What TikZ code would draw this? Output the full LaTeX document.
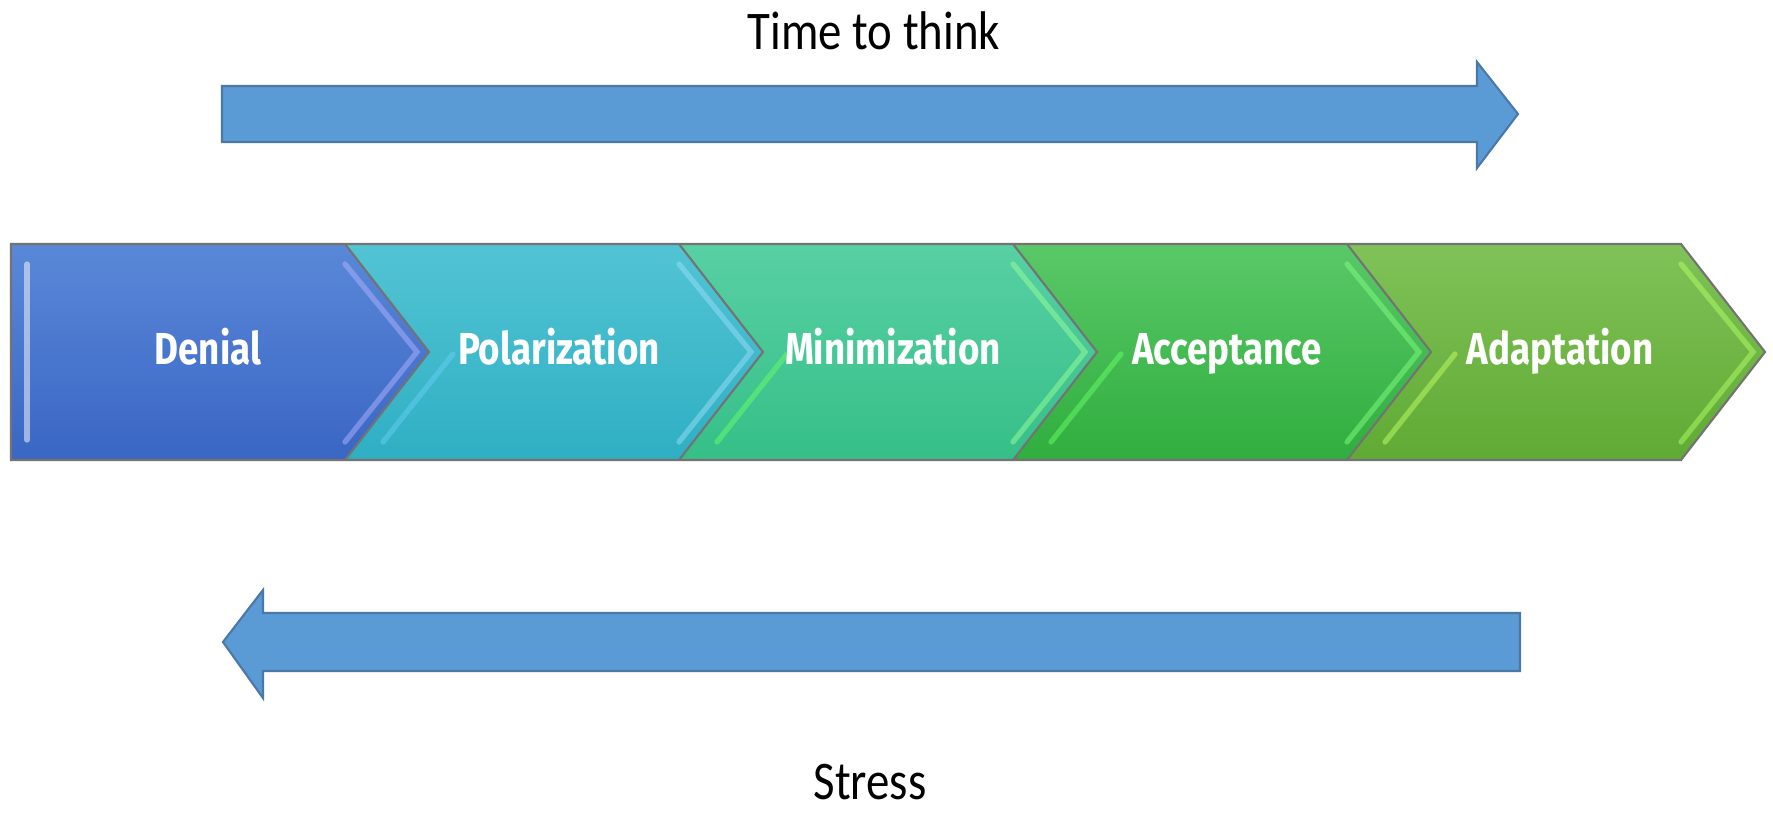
\documentclass[tikz,border=0pt]{standalone}
\usepackage{fontspec}
\newfontfamily\stagefont[FakeStretch=0.82]{Fira Sans}
\newfontfamily\notefont[FakeStretch=0.86]{Carlito}
\definecolor{arrowblue}{HTML}{5B9BD5}
\definecolor{arrowedge}{HTML}{4A78A8}
\definecolor{denialtop}{HTML}{5A88D8}
\definecolor{denialbot}{HTML}{3A66C4}
\definecolor{polartop}{HTML}{52C4D4}
\definecolor{polarbot}{HTML}{2FAFC3}
\definecolor{minitop}{HTML}{58D0A4}
\definecolor{minibot}{HTML}{36BF88}
\definecolor{acctop}{HTML}{5AC868}
\definecolor{accbot}{HTML}{30AE3E}
\definecolor{adapttop}{HTML}{80C258}
\definecolor{adaptbot}{HTML}{60AA34}
\begin{document}
\begin{tikzpicture}[x=0.02cm, y=0.02cm,
  bigarrow/.style={fill=arrowblue, draw=arrowedge, line width=1.2pt, line join=miter},
  edge/.style={draw=black!55, line width=1.2pt},
  shine/.style={line width=3pt, opacity=0.5, line cap=round},
  stage/.style={text=white, font=\stagefont\bfseries\fontsize{25.5}{30}\selectfont, anchor=base},
  note/.style={text=black, font=\notefont\fontsize{31}{37}\selectfont, anchor=base, inner sep=0pt}]
\useasboundingbox (0,0) rectangle (1773,814);

% arrows
\draw[bigarrow] (222,728) -- (1477,728) -- (1477,752) -- (1518,700) -- (1477,646) -- (1477,672) -- (222,672) -- cycle;
\draw[bigarrow] (1520,201) -- (263,201) -- (263,224) -- (223,172) -- (263,116) -- (263,143) -- (1520,143) -- cycle;
\node[note] (think) at (874,764) {Time to think};
\node[note] (stress) at (870,14) {Stress};

% chevrons
\shade[top color=denialtop, bottom color=denialbot] (11,570) -- (345,570) -- (429,462) -- (345,354) -- (11,354) -- cycle;
\shade[top color=polartop, bottom color=polarbot] (345,570) -- (679,570) -- (763,462) -- (679,354) -- (345,354) -- (429,462) -- cycle;
\shade[top color=minitop, bottom color=minibot] (679,570) -- (1013,570) -- (1097,462) -- (1013,354) -- (679,354) -- (763,462) -- cycle;
\shade[top color=acctop, bottom color=accbot] (1013,570) -- (1347,570) -- (1431,462) -- (1347,354) -- (1013,354) -- (1097,462) -- cycle;
\shade[top color=adapttop, bottom color=adaptbot] (1347,570) -- (1681,570) -- (1765,462) -- (1681,354) -- (1347,354) -- (1431,462) -- cycle;

% bevels
\draw[shine, draw=white] (27,550) -- (27,374);
\draw[shine, draw=blue!30!white] (345,550) -- (417,462) -- (345,372);
\draw[shine, draw=cyan!40!white] (679,550) -- (751,462) -- (679,372);
\draw[shine, draw=green!40!white] (1013,550) -- (1085,462) -- (1013,372);
\draw[shine, draw=green!50!white] (1347,550) -- (1419,462) -- (1347,372);
\draw[shine, draw=green!50!yellow!60!white] (1681,550) -- (1753,462) -- (1681,372);
\draw[shine, draw=cyan!60!white] (383,372) -- (453,460);
\draw[shine, draw=green!60!white] (717,372) -- (787,460);
\draw[shine, draw=green!60!white] (1051,372) -- (1121,460);
\draw[shine, draw=green!40!yellow!60!white] (1385,372) -- (1455,460);
\draw[edge] (11,570) -- (1681,570) -- (1765,462) -- (1681,354) -- (11,354) -- cycle;
\draw[edge] (345,570) -- (429,462) -- (345,354);
\draw[edge] (679,570) -- (763,462) -- (679,354);
\draw[edge] (1013,570) -- (1097,462) -- (1013,354);
\draw[edge] (1347,570) -- (1431,462) -- (1347,354);

\node[stage] (denial) at (208,449) {Denial};
\node[stage] (polar) at (559,449) {Polarization};
\node[stage] (mini) at (893,449) {Minimization};
\node[stage] (accept) at (1227,449) {Acceptance};
\node[stage] (adapt) at (1560,449) {Adaptation};

\end{tikzpicture}
\end{document}
